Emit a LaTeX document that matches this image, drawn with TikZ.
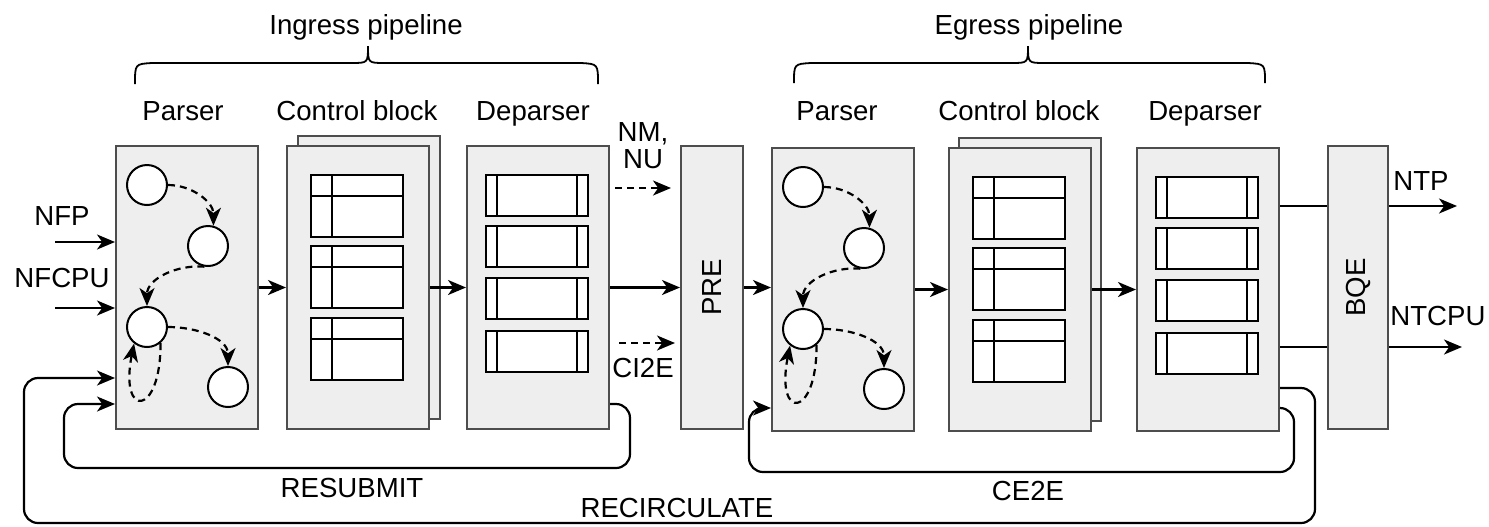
\documentclass[tikz,border=0pt]{standalone}
\usepackage{fontspec}
\setmainfont{Liberation Sans}
\usetikzlibrary{arrows.meta,calc}
\definecolor{boxfill}{HTML}{EEEEEE}
\definecolor{boxline}{HTML}{4D4D4D}
\newcommand\parserstates[1]{%
  \node[st] (#1a) at (32,40) {};
  \node[st] (#1b) at (93,101) {};
  \node[st] (#1c) at (32,182) {};
  \node[st] (#1d) at (113,242) {};
  \draw[dflow] (#1a.east) to[out=0,in=90] (#1b.75);
  \draw[dflow] (#1b.-100) to[out=175,in=90] (#1c.north);
  \draw[dflow] (#1c.east) to[out=0,in=90] (#1d.north);
  \draw[dflow] (#1c.-50) .. controls (46,272) and (4,274) .. (#1c.-128);
}
\newcommand\ctrltables{%
  \foreach \ty in {30,101,173}{
    \draw[tbl] (25,\ty) rectangle ++(92,62);
    \draw[tbl] (25,\ty+21) -- ++(92,0);
    \draw[tbl] (46,\ty) -- ++(0,62);
  }
}
\newcommand\deprows{%
  \foreach \ty in {30,81,133,186}{
    \draw[tbl] (20,\ty) rectangle ++(102,41);
    \draw[tbl] (31,\ty) -- ++(0,41);
    \draw[tbl] (111,\ty) -- ++(0,41);
  }
}
\begin{document}
\begin{tikzpicture}[x=0.5pt,y=-0.5pt,
  box/.style={draw=boxline, fill=boxfill, line width=1pt, inner sep=0pt, anchor=north west, minimum width=71pt, minimum height=141.5pt},
  st/.style={circle, draw=black, fill=white, line width=1pt, minimum size=20pt, inner sep=0pt},
  tbl/.style={draw=black, fill=white, line width=1.2pt},
  flow/.style={draw=black, line width=1.1pt, -{Stealth[length=9pt,width=7.5pt,inset=2.6pt]}},
  plain/.style={draw=black, line width=1.1pt},
  dflow/.style={flow, dash pattern=on 3.5pt off 2.5pt},
  lbl/.style={font=\fontsize{13.8}{13.5}\selectfont, inner sep=0pt, anchor=base},
  brace/.style={draw=black, line width=0.9pt},
]
\useasboundingbox (0,0) rectangle (1489,526);

% ---------- ingress ----------
\node[box] (ip) at (115,145) {};
\begin{scope}[shift={(115,145)}]\parserstates{i}\end{scope}

\node[box] (icb) at (297,135) {};
\node[box] (icf) at (286,145) {};
\begin{scope}[shift={(286,145)}]\ctrltables\end{scope}

\node[box] (id) at (466,145) {};
\begin{scope}[shift={(466,145)}]\deprows\end{scope}

% ---------- PRE ----------
\node[box, minimum width=31pt] (pre) at (680,145) {};
\node[lbl, anchor=center, rotate=90] (pret) at (pre.center) {PRE};

% ---------- egress ----------
\node[box] (ep) at (771,147) {};
\begin{scope}[shift={(771,147)}]\parserstates{e}\end{scope}

\node[box] (ecb) at (958,137) {};
\node[box] (ecf) at (948,147) {};
\begin{scope}[shift={(948,147)}]\ctrltables\end{scope}

\node[box] (ed) at (1136,147) {};
\begin{scope}[shift={(1136,147)}]\deprows\end{scope}

% ---------- BQE ----------
\node[box, minimum width=30pt] (bqe) at (1327,145) {};
\node[lbl, anchor=center, rotate=90] (bqet) at (bqe.center) {BQE};

% ---------- headings ----------
\node[lbl] (ingt) at (366,34) {Ingress pipeline};
\node[lbl] (egt) at (1029,34) {Egress pipeline};
\node[lbl] (h1) at (183,120) {Parser};
\node[lbl] (h2) at (357,120) {Control block};
\node[lbl] (h3) at (533,120) {Deparser};
\node[lbl] (h4) at (837,120) {Parser};
\node[lbl] (h5) at (1019,120) {Control block};
\node[lbl] (h6) at (1205,120) {Deparser};

\draw[brace] (135,84) .. controls (135,64) .. (152,63) -- (351,63)
  .. controls (368,63) .. (368,46) .. controls (368,63) .. (385,63)
  -- (581,63) .. controls (598,64) .. (598,84);
\draw[brace] (794,83) .. controls (794,64) .. (811,63) -- (1011,63)
  .. controls (1028,63) .. (1028,46) .. controls (1028,63) .. (1045,63)
  -- (1248,63) .. controls (1265,64) .. (1265,83);

% ---------- inputs ----------
\node[lbl] (nfp) at (62,225) {NFP};
\node[lbl] (nfcpu) at (62,287) {NFCPU};
\coordinate (nfpS) at (55,242);
\coordinate (nfcpuS) at (55,308);
\draw[flow] (nfpS) -- (ip.west |- nfpS);
\draw[flow] (nfcpuS) -- (ip.west |- nfcpuS);

% ---------- main flow ----------
\draw[flow] (ip.east) -- (icf.west);
\draw[flow] (icf.east) -- (id.west);
\draw[flow] (id.east) -- (pre.west);
\draw[flow] (pre.east) -- (pre.east -| ep.west);
\draw[flow] (ep.east) -- (ecf.west);
\draw[flow] (ecf.east) -- (ed.west);

% ---------- NM,NU / CI2E ----------
\node[lbl, align=center] (nmnu) at (643,168) {NM,\\NU};
\coordinate (nmS) at (615,188);
\coordinate (nmE) at (671,188);
\draw[dflow] (nmS) -- (nmE);
\coordinate (ciS) at (619,343);
\coordinate (ciE) at (675,343);
\draw[dflow] (ciS) -- (ciE);
\node[lbl] (ci2e) at (643,377) {CI2E};

% ---------- outputs ----------
\coordinate (ntpY) at (0,206);
\coordinate (ntcpuY) at (0,347);
\coordinate (ntpE) at (1457,206);
\coordinate (ntcpuE) at (1462,347);
\draw[plain] (ed.east |- ntpY) -- (bqe.west |- ntpY);
\draw[flow] (bqe.east |- ntpY) -- (ntpE);
\draw[plain] (ed.east |- ntcpuY) -- (bqe.west |- ntcpuY);
\draw[flow] (bqe.east |- ntcpuY) -- (ntcpuE);
\node[lbl, anchor=base west] (ntp) at (1393,190) {NTP};
\node[lbl, anchor=base west] (ntcpu) at (1390,325) {NTCPU};

% ---------- feedback loops ----------
\coordinate (rsY) at (0,404);
\draw[flow, rounded corners=7pt] (id.east |- rsY) -- (630,404) -- (630,468)
  -- (64,468) -- (64,404) -- (ip.west |- rsY);
\node[lbl] (resub) at (352,497) {RESUBMIT};

\coordinate (rcY) at (0,388);
\coordinate (rcY2) at (0,378);
\draw[flow, rounded corners=7pt] (ed.east |- rcY) -- (1315,388) -- (1315,523)
  -- (24,523) -- (24,378) -- (ip.west |- rcY2);
\node[lbl] (recirc) at (677,517) {RECIRCULATE};

\coordinate (ceY) at (0,408);
\draw[flow, rounded corners=7pt] (ed.east |- ceY) -- (1294,408) -- (1294,472)
  -- (749,472) -- (749,408) -- (ep.west |- ceY);
\node[lbl] (ce2e) at (1028,500) {CE2E};
\end{tikzpicture}
\end{document}
